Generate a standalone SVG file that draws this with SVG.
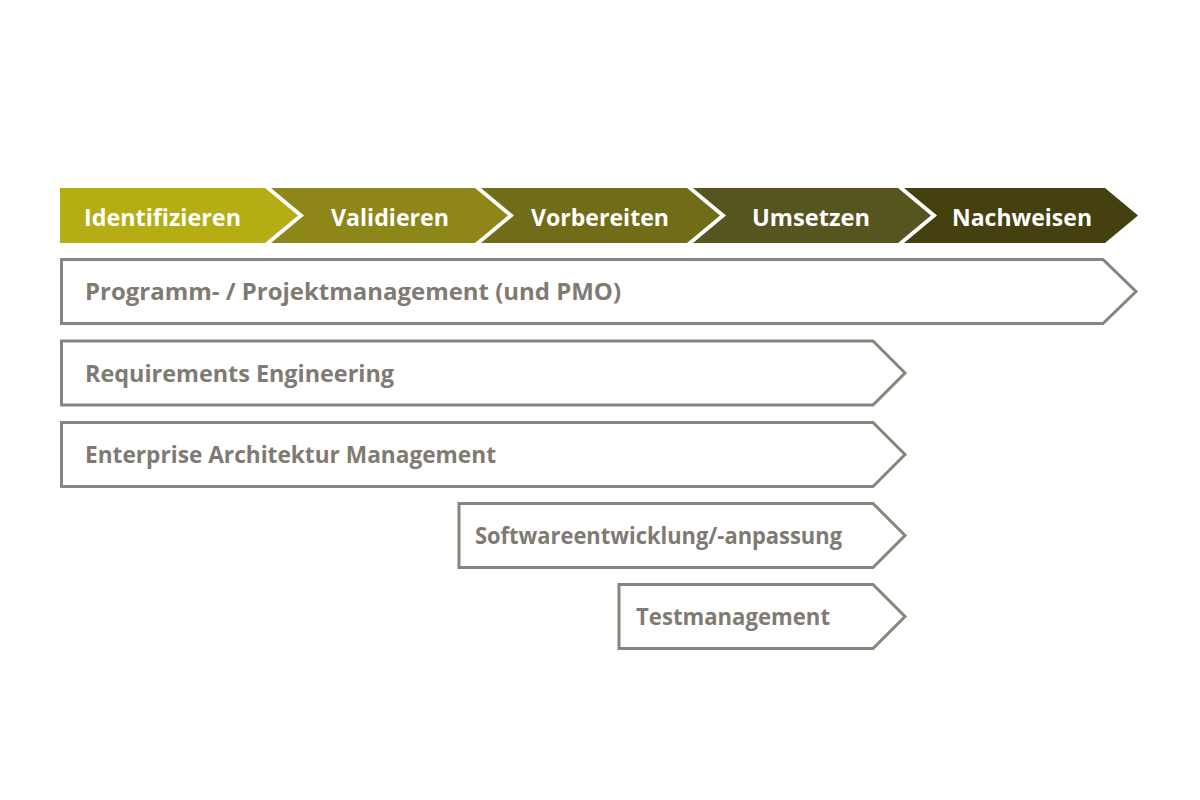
<svg xmlns="http://www.w3.org/2000/svg" width="1200" height="800" viewBox="0 0 1200 800">
<style>
.phase{stroke:none}
.ph{font-family:"Open Sans","Noto Sans","Liberation Sans",sans-serif;font-weight:700;font-size:23px;fill:#ffffff}
.box{fill:#ffffff;stroke:#8a857c;stroke-width:3}
.bt{font-family:"Open Sans","Noto Sans","Liberation Sans",sans-serif;font-weight:700;font-size:23px;fill:#7f7a72}
</style>
<rect width="1200" height="800" fill="#ffffff"/>
<g id="phases">
<g id="p1"><polygon class="phase" fill="#b4ad13" points="60,188 265,188 298,215.5 265,243 60,243"/><text class="ph" x="84" y="226" textLength="157" lengthAdjust="spacingAndGlyphs">Identifizieren</text></g>
<g id="p2"><polygon class="phase" fill="#8e8619" points="271,188 475,188 508,215.5 475,243 271,243 304,215.5"/><text class="ph" x="331" y="226" textLength="118" lengthAdjust="spacingAndGlyphs">Validieren</text></g>
<g id="p3"><polygon class="phase" fill="#716c18" points="481,188 687,188 720,215.5 687,243 481,243 514,215.5"/><text class="ph" x="531" y="226" textLength="138" lengthAdjust="spacingAndGlyphs">Vorbereiten</text></g>
<g id="p4"><polygon class="phase" fill="#57551f" points="693,188 898,188 931,215.5 898,243 693,243 726,215.5"/><text class="ph" x="752" y="226" textLength="118" lengthAdjust="spacingAndGlyphs">Umsetzen</text></g>
<g id="p5"><polygon class="phase" fill="#44400f" points="904,188 1105,188 1138,215.5 1105,243 904,243 937,215.5"/><text class="ph" x="952" y="226" textLength="140" lengthAdjust="spacingAndGlyphs">Nachweisen</text></g>
</g>
<g id="b1"><polygon class="box" points="61.5,259.5 1103,259.5 1136,291.5 1103,323.5 61.5,323.5"/><text class="bt" x="85" y="300" textLength="536" lengthAdjust="spacingAndGlyphs">Programm- / Projektmanagement (und PMO)</text></g>
<g id="b2"><polygon class="box" points="61.5,341 873,341 905,373 873,405 61.5,405"/><text class="bt" x="85" y="381.5" textLength="309" lengthAdjust="spacingAndGlyphs">Requirements Engineering</text></g>
<g id="b3"><polygon class="box" points="61.5,422.5 873,422.5 905,454.5 873,486.5 61.5,486.5"/><text class="bt" x="85" y="463" textLength="411" lengthAdjust="spacingAndGlyphs">Enterprise Architektur Management</text></g>
<g id="b4"><polygon class="box" points="459,503.5 873,503.5 905,535.5 873,567.5 459,567.5"/><text class="bt" x="475" y="544" textLength="367" lengthAdjust="spacingAndGlyphs">Softwareentwicklung/-anpassung</text></g>
<g id="b5"><polygon class="box" points="619,584.5 873,584.5 905,616.5 873,648.5 619,648.5"/><text class="bt" x="636" y="625" textLength="194" lengthAdjust="spacingAndGlyphs">Testmanagement</text></g>
</svg>
